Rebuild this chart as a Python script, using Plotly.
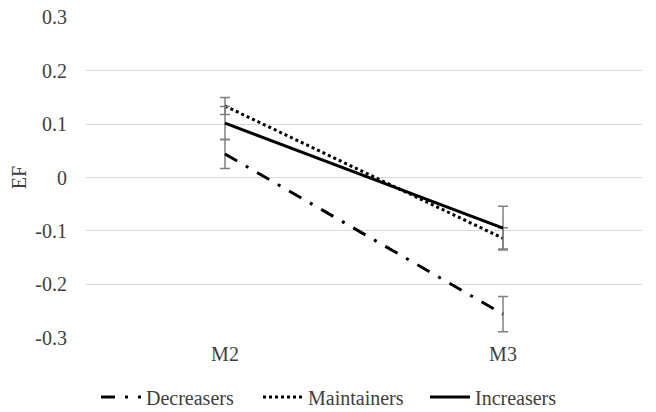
import plotly.graph_objects as go

categories = ["M2", "M3"]
decreasers = [0.044, -0.256]
decreasers_err = [0.027, 0.033]
maintainers = [0.134, -0.114]
maintainers_err = [0.016, 0.02]
increasers = [0.102, -0.095]
increasers_err = [0.031, 0.041]
y_ticks = [0.3, 0.2, 0.1, 0, -0.1, -0.2, -0.3]
y_tick_labels = ["0.3", "0.2", "0.1", "0", "-0.1", "-0.2", "-0.3"]

font_family = "Liberation Serif"
text_color = "#404040"
err_color = "#808080"

def err(vals):
    return dict(type="data", array=vals, visible=True, color=err_color, thickness=1.5, width=5)

fig = go.Figure()
fig.add_trace(go.Scatter(
    x=categories, y=decreasers, name="Decreasers", mode="lines", legend="legend",
    line=dict(color="black", width=3, dash="14px,10px,3px,10px"),
    error_y=err(decreasers_err)))
fig.add_trace(go.Scatter(
    x=categories, y=maintainers, name="Maintainers", mode="lines", legend="legend2",
    line=dict(color="black", width=3, dash="dot"),
    error_y=err(maintainers_err)))
fig.add_trace(go.Scatter(
    x=categories, y=increasers, name="Increasers", mode="lines", legend="legend3",
    line=dict(color="black", width=3),
    error_y=err(increasers_err)))

def leg(xpx):
    return dict(orientation="h", xref="container", yref="container",
                x=xpx / 656, xanchor="left", y=15 / 412, yanchor="middle",
                font=dict(family=font_family, size=20, color=text_color),
                itemwidth=40, bgcolor="rgba(0,0,0,0)")

fig.update_layout(
    width=656, height=412,
    margin=dict(l=86, r=14, t=17, b=74, autoexpand=False),
    paper_bgcolor="white", plot_bgcolor="white",
    font=dict(family=font_family, size=20, color=text_color),
    showlegend=True,
    legend=leg(96), legend2=leg(258), legend3=leg(425),
    xaxis=dict(type="category", showgrid=False, showline=False, zeroline=False,
               ticks="", tickfont=dict(size=20, color=text_color), range=[-0.5, 1.5],
               ticklabelstandoff=2),
    yaxis=dict(range=[-0.3008, 0.3008], tickvals=y_ticks, ticktext=y_tick_labels,
               showgrid=True, gridcolor="#d9d9d9", gridwidth=1.3, zeroline=False,
               showline=False, ticks="", ticklabelstandoff=18,
               tickfont=dict(size=20, color=text_color),
               title=dict(text="EF", standoff=3, font=dict(size=20, color=text_color))),
)

fig.write_html("out.html", config={"displayModeBar": False},
               post_script="document.body.style.margin='0';")
